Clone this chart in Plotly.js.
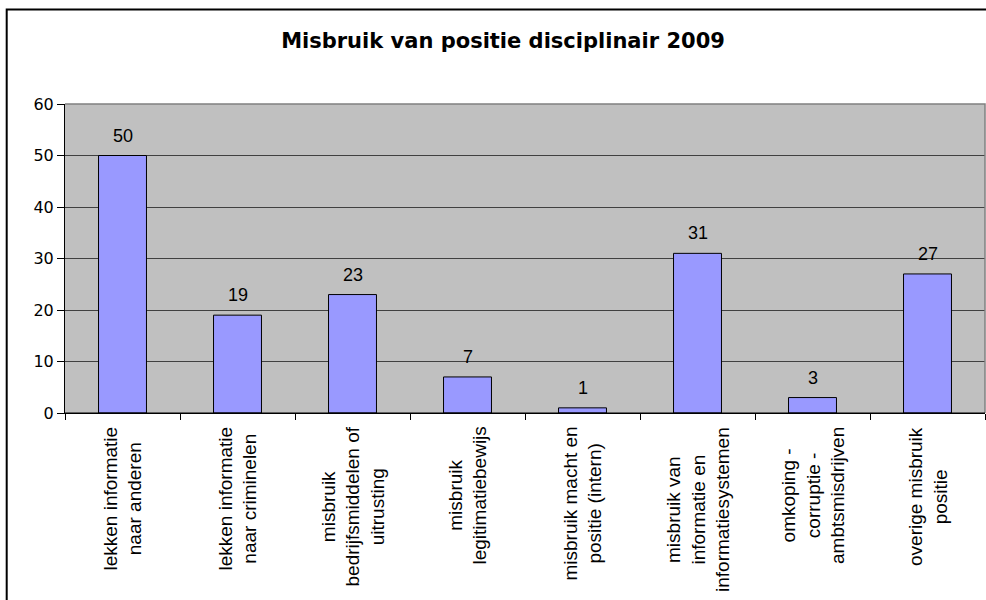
<!DOCTYPE html>
<html>
<head>
<meta charset="utf-8">
<script src="https://cdn.plot.ly/plotly-3.0.1.min.js"></script>
<style>
html, body { margin: 0; padding: 0; background: #ffffff; overflow: hidden; }
#chart { width: 986px; height: 600px; }
</style>
</head>
<body>
<div id="chart"></div>
<script>
// Data
var categories = [
  "lekken informatie naar anderen",
  "lekken informatie naar criminelen",
  "misbruik bedrijfsmiddelen of uitrusting",
  "misbruik legitimatiebewijs",
  "misbruik macht en positie (intern)",
  "misbruik van informatie en informatiesystemen",
  "omkoping - corruptie - ambtsmisdrijven",
  "overige misbruik positie"
];
var categoryLabels = [
  "lekken informatie<br>naar anderen",
  "lekken informatie<br>naar criminelen",
  "misbruik<br>bedrijfsmiddelen of<br>uitrusting",
  "misbruik<br>legitimatiebewijs",
  "misbruik macht en<br>positie (intern)",
  "misbruik van<br>informatie en<br>informatiesystemen",
  "omkoping -<br>corruptie -<br>ambtsmisdrijven",
  "overige misbruik<br>positie"
];
var values = [50, 19, 23, 7, 1, 31, 3, 27];
var yTicks = [0, 10, 20, 30, 40, 50, 60];
var chartTitle = "Misbruik van positie disciplinair 2009";

var trace = {
  type: "bar", x: categories, y: values,
  marker: { color: "#9999FF", line: { color: "#000000", width: 1 } }
};

var annotations = [];
categories.forEach(function (c, i) {
  annotations.push({
    x: c, y: values[i], xref: "x", yref: "y",
    text: String(values[i]), showarrow: false,
    xanchor: "center", yanchor: "middle", yshift: 20,
    font: { family: "Liberation Sans, Arial, sans-serif", size: 18, color: "#000000" }
  });
  annotations.push({
    x: c, y: 0, xref: "x", yref: "paper",
    text: categoryLabels[i], showarrow: false,
    textangle: -90, align: "center",
    xanchor: "center", yanchor: "top", yshift: -12,
    font: { family: "Liberation Sans, Arial, sans-serif", size: 19, color: "#000000" }
  });
});

var plotTop = 104, plotBottom = 413, plotLeft = 65, plotRight = 985;
var ph = plotBottom - plotTop, pw = plotRight - plotLeft;
var bx0 = (6.7 - plotLeft) / pw, bx1 = (1010 - plotLeft) / pw;
var by0 = (plotBottom - 640) / ph, by1 = (plotBottom - 9.5) / ph;

var layout = {
  width: 986, height: 600,
  margin: { l: plotLeft, r: 986 - plotRight, t: plotTop, b: 600 - plotBottom, pad: 0 },
  paper_bgcolor: "#ffffff", plot_bgcolor: "#C0C0C0", showlegend: false, bargap: 0.583,
  title: {
    text: "<b>" + chartTitle + "</b>", xref: "container", yref: "container",
    x: 503 / 986, xanchor: "center", y: 1 - 41 / 600, yanchor: "middle",
    font: { family: "DejaVu Sans, sans-serif", size: 21, color: "#000000" }
  },
  xaxis: {
    type: "category", showticklabels: false, showgrid: false, zeroline: false,
    showline: true, linecolor: "#000000", linewidth: 1,
    ticks: "outside", tickson: "boundaries", ticklen: 6, tickcolor: "#000000", tickwidth: 1,
    range: [-0.5, categories.length - 0.5]
  },
  yaxis: {
    range: [0, 60], tickvals: yTicks, ticktext: yTicks.map(String),
    showgrid: true, gridcolor: "#404040", gridwidth: 1, zeroline: false,
    showline: true, linecolor: "#000000", linewidth: 1,
    ticks: "outside", ticklen: 7, tickcolor: "#000000", tickwidth: 1,
    tickfont: { family: "DejaVu Sans, sans-serif", size: 16, color: "#000000" }
  },
  shapes: [
    { type: "path", xref: "paper", yref: "paper", path: "M0,1 L1,1 L1,0", line: { color: "#808080", width: 1.5 } },
    { type: "path", xref: "paper", yref: "paper",
      path: "M" + bx0 + "," + by0 + " L" + bx0 + "," + by1 + " L" + bx1 + "," + by1,
      line: { color: "#000000", width: 2 } },
    { type: "line", xref: "paper", yref: "paper", x0: 0, x1: 1, y0: 0, y1: 0,
      line: { color: "#000000", width: 1 } }
  ],
  annotations: annotations
};

Plotly.newPlot("chart", [trace], layout, { displayModeBar: false, staticPlot: true });
</script>
</body>
</html>
